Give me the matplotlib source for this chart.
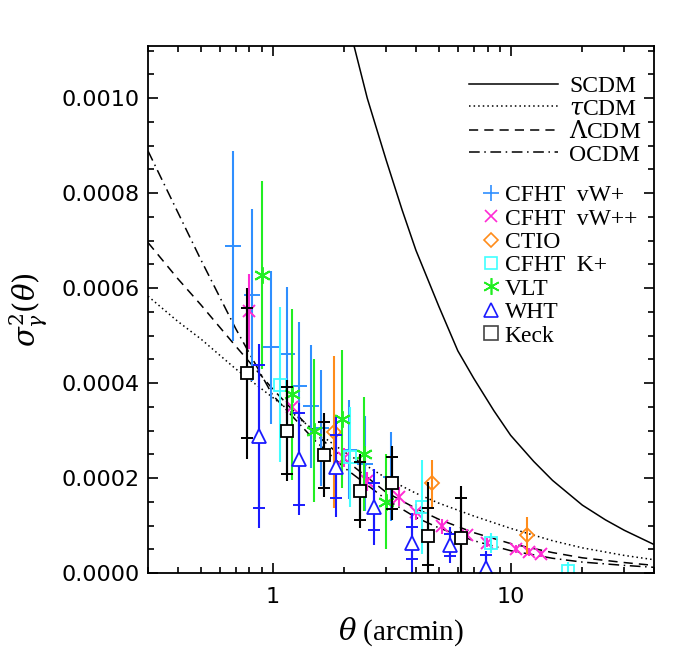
import numpy as np
import matplotlib
matplotlib.use("Agg")
import matplotlib.pyplot as plt
from matplotlib.ticker import FixedLocator, NullFormatter, FormatStrFormatter
from matplotlib.lines import Line2D

# ---------------- theory curves ----------------
theta_grid = [0.3, 0.4, 0.5, 0.7, 1.0, 1.5, 2.0, 3.0, 4.0, 5.0, 7.0, 10.0, 15.0, 20.0, 30.0, 40.0]
tau_cdm    = [5.83e-4, 5.30e-4, 4.93e-4, 4.30e-4, 3.70e-4, 3.00e-4, 2.55e-4, 2.00e-4, 1.68e-4,
              1.47e-4, 1.20e-4, 9.4e-5, 6.8e-5, 5.3e-5, 3.7e-5, 2.8e-5]
lambda_cdm = [6.96e-4, 6.20e-4, 5.65e-4, 4.78e-4, 3.88e-4, 2.95e-4, 2.40e-4, 1.70e-4, 1.36e-4,
              1.13e-4, 8.5e-5, 6.2e-5, 4.3e-5, 3.2e-5, 2.2e-5, 1.6e-5]
o_cdm      = [8.89e-4, 7.60e-4, 6.60e-4, 5.15e-4, 3.75e-4, 2.80e-4, 2.22e-4, 1.55e-4, 1.17e-4,
              9.5e-5, 6.8e-5, 4.7e-5, 3.1e-5, 2.3e-5, 1.6e-5, 1.2e-5]
theta_scdm = [2.1, 2.2, 2.5, 3.0, 3.5, 4.0, 5.0, 6.0, 7.0, 8.5, 10.0, 12.5, 15.0, 20.0, 25.0, 30.0, 40.0]
s_cdm      = [1.16e-3, 1.11e-3, 1.00e-3, 8.7e-4, 7.65e-4, 6.8e-4, 5.61e-4, 4.68e-4, 4.10e-4, 3.42e-4,
              2.90e-4, 2.35e-4, 1.95e-4, 1.43e-4, 1.12e-4, 9.0e-5, 6.0e-5]

# ---------------- measurements ----------------
# CFHT vW+
vwp_theta = [0.68, 0.82, 0.99, 1.15, 1.29, 1.45, 1.60, 2.10, 2.45, 3.15]
vwp_val   = [6.89e-4, 5.86e-4, 4.75e-4, 4.62e-4, 3.93e-4, 3.51e-4, 3.05e-4, 2.60e-4, 2.30e-4, 2.03e-4]
vwp_err   = [2.00e-4, 1.81e-4, 1.62e-4, 1.41e-4, 1.35e-4, 1.30e-4, 1.22e-4, 1.05e-4, 1.00e-4, 0.94e-4]
# CFHT vW++
vwpp_theta = [0.80, 1.21, 2.00, 2.50, 3.41, 3.99, 5.17, 6.58, 7.98, 10.5, 12.0, 13.4]
vwpp_val   = [5.51e-4, 3.49e-4, 2.43e-4, 1.93e-4, 1.61e-4, 1.29e-4, 9.8e-5, 8.0e-5, 6.4e-5, 5.0e-5, 4.4e-5, 4.0e-5]
vwpp_err   = [7.9e-5, 1.5e-5, 2.0e-5, 2.0e-5, 2.0e-5, 1.7e-5, 1.5e-5, 1.2e-5, 1.0e-5, 8e-6, 8e-6, 7e-6]
# CTIO
ctio_theta = [1.82, 4.69, 11.7]
ctio_val   = [2.97e-4, 1.89e-4, 7.9e-5]
ctio_err   = [1.61e-4, 5.0e-5, 4.0e-5]
# CFHT K+
kp_theta = [1.07, 2.12, 4.26, 8.27, 17.4]
kp_val   = [3.97e-4, 2.45e-4, 1.39e-4, 6.3e-5, 4e-6]
kp_err   = [1.63e-4, 1.05e-4, 1.00e-4, 2.1e-5, 2.0e-5]
# VLT
vlt_theta = [0.90, 1.21, 1.50, 1.95, 2.42, 3.01]
vlt_val   = [6.27e-4, 3.76e-4, 3.00e-4, 3.25e-4, 2.50e-4, 1.50e-4]
vlt_err   = [1.98e-4, 1.80e-4, 1.50e-4, 1.45e-4, 1.20e-4, 1.00e-4]
# WHT
wht_theta = [0.88, 1.29, 1.85, 2.67, 3.86, 5.56, 7.85]
wht_val   = [2.88e-4, 2.40e-4, 2.24e-4, 1.40e-4, 6.3e-5, 5.9e-5, 1.1e-5]
wht_in    = [1.51e-4, 9.75e-5, 6.6e-5, 4.9e-5, 3.3e-5, 2.3e-5, 2.7e-5]
wht_out   = [1.94e-4, 1.18e-4, 1.05e-4, 8.0e-5, 6.3e-5, 3.8e-5, 3.6e-5]
# Keck
keck_theta = [0.78, 1.15, 1.64, 2.32, 3.19, 4.49, 6.16]
keck_val   = [4.21e-4, 3.00e-4, 2.49e-4, 1.72e-4, 1.90e-4, 7.7e-5, 7.3e-5]
keck_in    = [1.37e-4, 9.1e-5, 7.0e-5, 6.1e-5, 5.5e-5, 6.0e-5, 8.6e-5]
keck_out   = [1.80e-4, 1.06e-4, 8.9e-5, 7.8e-5, 7.8e-5, 1.14e-4, 1.10e-4]

C_VWP = '#2f8fff'
C_VWPP = '#ff2ad4'
C_CTIO = '#ff8c1a'
C_KP = '#40ffff'
C_VLT = '#22ee22'
C_WHT = '#1a1aff'
C_KECK = 'black'

plt.rcParams['font.family'] = ['DejaVu Sans']
plt.rcParams['mathtext.fontset'] = 'dejavuserif'

fig = plt.figure(figsize=(7.0, 6.68), dpi=100)
ax = fig.add_axes([148/700, 95/668, 506/700, 527/668])
ax.set_xscale('log')

# curves
lw_c = 1.1
l_s, = ax.plot(theta_scdm, s_cdm, color='black', lw=lw_c, ls='-')
l_t, = ax.plot(theta_grid, tau_cdm, color='black', lw=lw_c, ls=(0, (1, 2)))
l_l, = ax.plot(theta_grid, lambda_cdm, color='black', lw=lw_c, ls=(0, (6, 4)))
l_o, = ax.plot(theta_grid, o_cdm, color='black', lw=lw_c, ls=(0, (7, 3, 1, 3)))

elw = 1.5
# CFHT vW+
ax.errorbar(vwp_theta, vwp_val, yerr=vwp_err, fmt='none', ecolor=C_VWP, elinewidth=elw)
ax.plot(vwp_theta, vwp_val, ls='none', marker='+', ms=11, mew=1.4, color=C_VWP)
# CFHT vW++
ax.errorbar(vwpp_theta, vwpp_val, yerr=vwpp_err, fmt='none', ecolor=C_VWPP, elinewidth=elw)
ax.plot(vwpp_theta, vwpp_val, ls='none', marker='x', ms=9, mew=1.4, color=C_VWPP)
# CTIO
ax.errorbar(ctio_theta, ctio_val, yerr=ctio_err, fmt='none', ecolor=C_CTIO, elinewidth=elw)
ax.plot(ctio_theta, ctio_val, ls='none', marker='D', ms=7, mew=1.3, mfc='none', mec=C_CTIO)
# CFHT K+
ax.errorbar(kp_theta, kp_val, yerr=kp_err, fmt='none', ecolor=C_KP, elinewidth=elw)
ax.plot(kp_theta, kp_val, ls='none', marker='s', ms=9, mew=1.3, mfc='none', mec=C_KP)
# VLT
ax.errorbar(vlt_theta, vlt_val, yerr=vlt_err, fmt='none', ecolor=C_VLT, elinewidth=elw)
ax.plot(vlt_theta, vlt_val, ls='none', marker=(6, 2, 0), ms=12, mew=1.4, color=C_VLT)
# WHT
ax.errorbar(wht_theta, wht_val, yerr=wht_out, fmt='none', ecolor=C_WHT, elinewidth=elw)
ax.errorbar(wht_theta, wht_val, yerr=wht_in, fmt='none', ecolor=C_WHT, elinewidth=elw,
            capsize=4, capthick=1.4)
ax.plot(wht_theta, wht_val, ls='none', marker='^', ms=10, mew=1.3, mfc='white', mec=C_WHT)
# Keck
ax.errorbar(keck_theta, keck_val, yerr=keck_out, fmt='none', ecolor=C_KECK, elinewidth=elw)
ax.errorbar(keck_theta, keck_val, yerr=keck_in, fmt='none', ecolor=C_KECK, elinewidth=elw,
            capsize=4, capthick=1.4)
ax.plot(keck_theta, keck_val, ls='none', marker='s', ms=9, mew=1.3, mfc='white', mec=C_KECK)

ax.set_xlim(0.3, 40)
ax.set_ylim(0, 0.00111)

# ticks
ax.xaxis.set_major_locator(FixedLocator([1, 10]))
ax.set_xticklabels(['1', '10'])
ax.xaxis.set_minor_locator(FixedLocator([0.3, 0.4, 0.5, 0.6, 0.7, 0.8, 0.9, 2, 3, 4, 5, 6, 7, 8, 9, 20, 30, 40]))
ax.xaxis.set_minor_formatter(NullFormatter())
ax.yaxis.set_major_locator(FixedLocator([0, 0.0002, 0.0004, 0.0006, 0.0008, 0.0010]))
ax.yaxis.set_major_formatter(FormatStrFormatter('%.4f'))
ax.yaxis.set_minor_locator(FixedLocator(np.arange(0, 0.00111, 0.00005)))
ax.tick_params(which='both', direction='in', top=True, right=True, width=1.2, labelsize=16)
ax.tick_params(which='major', length=7.5)
ax.tick_params(which='minor', length=4)
ax.tick_params(axis='y', which='major', pad=6)
ax.tick_params(axis='x', which='major', pad=10)
for sp in ax.spines.values():
    sp.set_linewidth(1.3)

ax.set_xlabel(r'$\theta$ (arcmin)', family='Liberation Serif', fontsize=21, labelpad=6)
ax.set_ylabel(r'$\sigma^2_\gamma(\theta)$', fontsize=21, labelpad=8)

# legends
LFONT = {'family': 'Liberation Serif', 'size': 17}
leg1 = ax.legend([l_s, l_t, l_l, l_o], ['SCDM', r'$\tau$CDM', r'$\Lambda$CDM', 'OCDM'],
                 loc='upper left', bbox_to_anchor=(0.615, 0.962), frameon=False, prop=LFONT,
                 handlelength=3.8, handletextpad=0.45, labelspacing=0.05, borderaxespad=0)
ax.add_artist(leg1)
h_pts = [Line2D([], [], ls='none', marker='+', ms=11, mew=1.2, color=C_VWP),
         Line2D([], [], ls='none', marker='x', ms=9, mew=1.2, color=C_VWPP),
         Line2D([], [], ls='none', marker='D', ms=7, mew=1.2, mfc='none', mec=C_CTIO),
         Line2D([], [], ls='none', marker='s', ms=9, mew=1.2, mfc='none', mec=C_KP),
         Line2D([], [], ls='none', marker=(6, 2, 0), ms=12, mew=1.2, color=C_VLT),
         Line2D([], [], ls='none', marker='^', ms=10, mew=1.2, mfc='none', mec=C_WHT),
         Line2D([], [], ls='none', marker='s', ms=10, mew=1.2, mfc='none', mec='#444444')]
leg2 = ax.legend(h_pts, ['CFHT  vW+', 'CFHT  vW++', 'CTIO', 'CFHT  K+', 'VLT', 'WHT', 'Keck'],
                 loc='upper left', bbox_to_anchor=(0.635, 0.755), frameon=False, prop=LFONT,
                 handlelength=1.0, handletextpad=0.1, labelspacing=0.08, borderaxespad=0)

fig.savefig('out.png', dpi=100)
